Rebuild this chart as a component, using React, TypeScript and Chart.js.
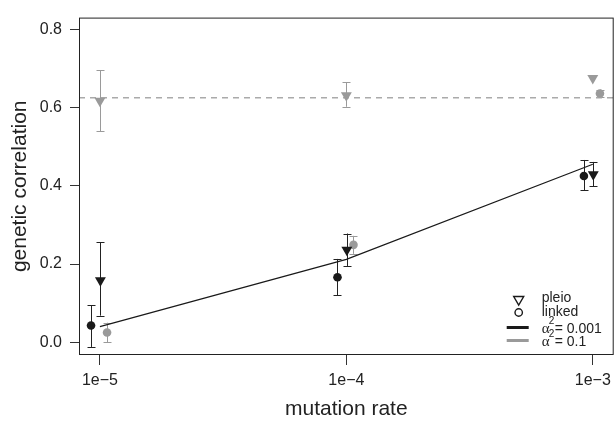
import React, { useEffect, useRef } from "react";
import { Chart, registerables } from "chart.js";
Chart.register(...registerables);

// ---- data ----
const rates = [1e-5, 1e-4, 1e-3];
const xTickLabels = ["1e\u22125", "1e\u22124", "1e\u22123"];
const yTicks = [0, 0.2, 0.4, 0.6, 0.8];

// alpha^2 = 0.001 (black)
const pleioA001 = [0.158, 0.236, 0.429];
const pleioA001Lo = [0.068, 0.195, 0.399];
const pleioA001Hi = [0.256, 0.278, 0.461];
const linkedA001 = [0.043, 0.166, 0.425];
const linkedA001Lo = [-0.012, 0.12, 0.389];
const linkedA001Hi = [0.095, 0.213, 0.466];
const fitA001 = [0.04, 0.212, 0.455];

// alpha^2 = 0.1 (grey)
const pleioA01 = [0.617, 0.631, 0.675];
const pleioA01Lo = [0.539, 0.602, 0.675];
const pleioA01Hi = [0.695, 0.665, 0.675];
const linkedA01 = [0.025, 0.249, 0.636];
const linkedA01Lo = [0.0, 0.226, 0.628];
const linkedA01Hi = [0.05, 0.272, 0.646];
const fitA01 = 0.625;

// ---- styles ----
const BLACK = "#1a1a1a";
const GREY = "#9a9a9a";
const SANS = "'Liberation Sans', Arial, Helvetica, sans-serif";
const SERIF = "'Liberation Serif', 'DejaVu Serif', serif";

// horizontal dodge (in decades) so the groups don't overlap
const DODGE_LINKED_BLACK = -0.036;
const DODGE_PLEIO_BLACK = 0.002;
const DODGE_LINKED_GREY = 0.029;
const DODGE_PLEIO_GREY = 0;

const pts = (vals: number[], dodge: number) =>
  rates.map((r, i) => ({ x: r * Math.pow(10, dodge), y: vals[i] }));

const errorBarPlugin = {
  id: "errorBars",
  beforeDatasetsDraw(chart: any) {
    const { ctx } = chart;
    const ys = chart.scales.y;
    chart.data.datasets.forEach((ds: any, i: number) => {
      if (!ds.errLo) return;
      const meta = chart.getDatasetMeta(i);
      ctx.save();
      ctx.strokeStyle = ds.errColor;
      ctx.lineWidth = 1;
      meta.data.forEach((el: any, j: number) => {
        const lo = ds.errLo[j];
        const hi = ds.errHi[j];
        if (hi === lo) return;
        const x = Math.round(el.x) + 0.5;
        const y1 = ys.getPixelForValue(lo);
        const y2 = ys.getPixelForValue(hi);
        ctx.beginPath();
        ctx.moveTo(x, y1);
        ctx.lineTo(x, y2);
        ctx.moveTo(x - 4, Math.round(y1) + 0.5);
        ctx.lineTo(x + 4, Math.round(y1) + 0.5);
        ctx.moveTo(x - 4, Math.round(y2) + 0.5);
        ctx.lineTo(x + 4, Math.round(y2) + 0.5);
        ctx.stroke();
      });
      ctx.restore();
    });
  },
};

const boxPlugin = {
  id: "boxAndRef",
  beforeDatasetsDraw(chart: any) {
    const { ctx, chartArea: a } = chart;
    const y = chart.scales.y.getPixelForValue(fitA01);
    ctx.save();
    ctx.beginPath();
    ctx.rect(a.left, a.top, a.right - a.left, a.bottom - a.top);
    ctx.clip();
    ctx.strokeStyle = "#aaaaaa";
    ctx.lineWidth = 1.5;
    ctx.setLineDash([6, 5]);
    ctx.beginPath();
    ctx.moveTo(a.left, y);
    ctx.lineTo(a.right, y);
    ctx.stroke();
    ctx.restore();
  },
  afterDraw(chart: any) {
    const { ctx, chartArea: a } = chart;
    ctx.save();
    ctx.strokeStyle = "#222";
    ctx.lineWidth = 1;
    ctx.strokeRect(a.left + 0.5, a.top + 0.5, a.right - a.left - 1, a.bottom - a.top - 1);

    // legend
    const lx = a.right - 95; // symbol centre
    const tx = a.right - 72; // text start
    ctx.strokeStyle = BLACK;
    ctx.fillStyle = BLACK;
    ctx.lineWidth = 1.4;
    // triangle down
    const ty = 300;
    ctx.beginPath();
    ctx.moveTo(lx - 5, ty - 3.5);
    ctx.lineTo(lx + 5, ty - 3.5);
    ctx.lineTo(lx, ty + 5);
    ctx.closePath();
    ctx.stroke();
    // circle
    ctx.beginPath();
    ctx.arc(lx, 312.5, 3.7, 0, Math.PI * 2);
    ctx.stroke();
    // lines
    ctx.lineWidth = 3;
    ctx.beginPath();
    ctx.moveTo(lx - 12, 327.5);
    ctx.lineTo(lx + 10, 327.5);
    ctx.stroke();
    ctx.strokeStyle = GREY;
    ctx.beginPath();
    ctx.moveTo(lx - 12, 340.5);
    ctx.lineTo(lx + 10, 340.5);
    ctx.stroke();
    // texts
    ctx.fillStyle = "#222";
    ctx.font = `14px ${SANS}`;
    ctx.textBaseline = "alphabetic";
    ctx.textAlign = "left";
    ctx.fillText("pleio", tx, 302);
    ctx.fillText("linked", tx, 315.5);
    const alphaRow = (base: number, val: string) => {
      ctx.font = `15px ${SERIF}`;
      ctx.fillText("\u03b1", tx, base);
      ctx.font = `10px ${SANS}`;
      ctx.fillText("2", tx + 7, base - 9);
      ctx.font = `14px ${SANS}`;
      ctx.fillText("= " + val, tx + 13, base);
    };
    alphaRow(333, "0.001");
    alphaRow(346, "0.1");
    ctx.restore();
  },
};

export default function App() {
  const ref = useRef<HTMLCanvasElement>(null);
  useEffect(() => {
    if (!ref.current) return;
    Chart.defaults.font.family = SANS;
    const chart = new Chart(ref.current, {
      type: "scatter",
      data: {
        datasets: [
          {
            label: "pleio a=0.001",
            data: pts(pleioA001, DODGE_PLEIO_BLACK),
            pointStyle: "triangle",
            rotation: 180,
            pointRadius: 6.3,
            backgroundColor: BLACK,
            borderColor: BLACK,
            borderWidth: 0,
            errLo: pleioA001Lo,
            errHi: pleioA001Hi,
            errColor: "#222",
            order: 1,
          } as any,
          {
            label: "linked a=0.001",
            data: pts(linkedA001, DODGE_LINKED_BLACK),
            pointStyle: "circle",
            pointRadius: 4.3,
            backgroundColor: BLACK,
            borderColor: BLACK,
            borderWidth: 0,
            errLo: linkedA001Lo,
            errHi: linkedA001Hi,
            errColor: "#222",
            order: 2,
          } as any,
          {
            label: "pleio a=0.1",
            data: pts(pleioA01, DODGE_PLEIO_GREY),
            pointStyle: "triangle",
            rotation: 180,
            pointRadius: 6.3,
            backgroundColor: GREY,
            borderColor: GREY,
            borderWidth: 0,
            errLo: pleioA01Lo,
            errHi: pleioA01Hi,
            errColor: GREY,
            order: 3,
          } as any,
          {
            label: "linked a=0.1",
            data: pts(linkedA01, DODGE_LINKED_GREY),
            pointStyle: "circle",
            pointRadius: 4.3,
            backgroundColor: GREY,
            borderColor: GREY,
            borderWidth: 0,
            errLo: linkedA01Lo,
            errHi: linkedA01Hi,
            errColor: GREY,
            order: 4,
          } as any,
          {
            type: "line",
            label: "fit a=0.001",
            data: rates.map((r, i) => ({ x: r, y: fitA001[i] })),
            borderColor: BLACK,
            borderWidth: 1.2,
            pointRadius: 0,
            fill: false,
            tension: 0,
            order: 10,
          } as any,
        ],
      },
      options: {
        animation: false,
        responsive: false,
        devicePixelRatio: 1,
        layout: { padding: { left: 0, right: 4, top: 10, bottom: 0 } },
        plugins: {
          legend: { display: false },
          tooltip: { enabled: false },
        },
        scales: {
          x: {
            type: "logarithmic",
            min: Math.pow(10, -5 - 21 / 247.5),
            max: Math.pow(10, -3 + 21 / 247.5),
            afterBuildTicks: (s: any) => {
              s.ticks = rates.map((v) => ({ value: v }));
            },
            afterFit: (s: any) => {
              s.height = 67;
            },
            ticks: {
              autoSkip: false,
              maxRotation: 0,
              padding: 6,
              color: "#222",
              font: { size: 16, family: SANS },
              callback: (v: any) => {
                const i = rates.findIndex((r) => Math.abs(Math.log10(r) - Math.log10(v)) < 1e-6);
                return i >= 0 ? xTickLabels[i] : "";
              },
            },
            grid: {
              drawOnChartArea: false,
              drawTicks: true,
              tickLength: 10,
              color: "#333",
              lineWidth: 1,
            },
            border: { display: false },
            title: {
              display: true,
              text: "mutation rate",
              color: "#222",
              font: { size: 21, family: SANS },
              padding: { top: 0, bottom: 0 },
            },
          },
          y: {
            type: "linear",
            min: -0.0326,
            max: 0.83,
            afterBuildTicks: (s: any) => {
              s.ticks = yTicks.map((v) => ({ value: v }));
            },
            afterFit: (s: any) => {
              s.width = 79;
            },
            ticks: {
              padding: 8,
              color: "#222",
              font: { size: 16, family: SANS },
              callback: (v: any) => Number(v).toFixed(1),
            },
            grid: {
              drawOnChartArea: false,
              drawTicks: true,
              tickLength: 9,
              color: "#333",
              lineWidth: 1,
            },
            border: { display: false },
            title: {
              display: true,
              text: "genetic correlation",
              color: "#222",
              font: { size: 21, family: SANS },
              padding: { top: 8, bottom: 0 },
            },
          },
        },
      },
      plugins: [errorBarPlugin, boxPlugin],
    });
    return () => chart.destroy();
  }, []);

  return (
    <div
      style={{
        position: "fixed",
        left: 0,
        top: 0,
        width: 614,
        height: 422,
        overflow: "hidden",
        background: "#fff",
      }}
    >
      <canvas ref={ref} width={620} height={422} style={{ width: 620, height: 422, display: "block" }} />
    </div>
  );
}
